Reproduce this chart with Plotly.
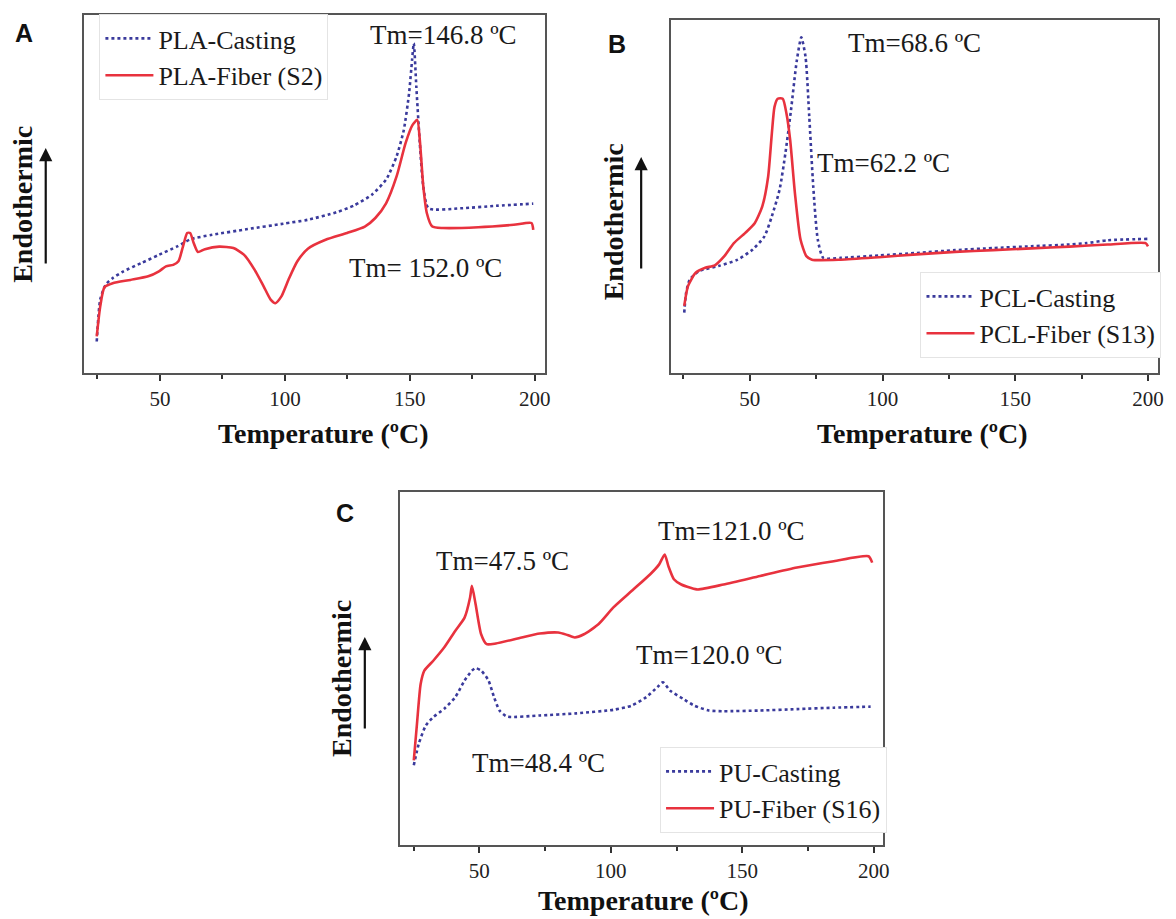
import plotly.graph_objects as go

# ---------------- data (temperature in °C, heat flow in arbitrary units) ----------------
pla_cast_T = [24.7, 26.1, 28.3, 31.1, 35.4, 42.5, 49.6, 56.7, 62.4, 70.9, 85.1, 99.3, 109.2, 120.6,
              127.7, 134.8, 140.5, 144.7, 147.6, 149.7, 150.9, 151.6, 152.6, 154.0, 155.4, 157.5,
              170.3, 184.5, 199.4]
pla_cast_y = [8.8, 20.5, 24.7, 26.5, 28.4, 30.7, 33.0, 35.3, 37.4, 38.6, 40.2, 41.7, 42.8, 44.9,
              46.8, 49.8, 54.0, 60.5, 67.9, 78.1, 87.4, 92.1, 80.0, 64.2, 52.1, 46.0,
              46.0, 46.7, 47.3]

pla_fib_T = [24.7, 26.1, 27.8, 31.1, 38.2, 45.3, 49.6, 52.4, 55.3, 57.4, 59.2, 60.9, 62.1, 63.5,
             65.2, 68.0, 73.7, 79.4, 83.7, 87.9, 91.5, 94.3, 96.2, 98.6, 101.4, 105.0, 109.2,
             116.3, 124.9, 132.0, 136.2, 140.5, 144.7, 148.3, 151.1, 153.0, 154.0, 155.4, 156.8,
             159.0, 163.2, 177.4, 191.6, 198.7, 199.4]
pla_fib_y = [10.2, 18.6, 24.0, 25.1, 26.0, 27.0, 28.4, 29.8, 30.2, 31.2, 35.3, 39.1, 39.1, 36.3,
             33.8, 34.6, 35.3, 34.9, 33.0, 28.8, 24.2, 20.5, 19.5, 21.4, 26.0, 31.2, 34.7,
             37.2, 39.1, 40.9, 43.3, 47.4, 54.9, 64.2, 69.3, 70.7, 65.1, 52.1, 44.7,
             40.9, 40.5, 40.7, 41.4, 41.9, 40.0]

pcl_cast_T = [25.3, 26.0, 27.4, 31.0, 38.2, 45.4, 51.1, 55.5, 58.3, 61.2, 63.4, 65.5, 67.7, 69.4,
              71.0, 72.4, 73.9, 75.6, 77.7, 84.2, 98.6, 112.9, 127.3, 141.7, 156.0, 170.4, 176.9,
              184.8, 200.0]
pcl_cast_y = [17.1, 22.7, 26.5, 28.9, 30.3, 32.1, 35.0, 38.7, 44.4, 51.9, 62.2, 74.4, 88.5, 95.1,
              89.5, 72.6, 52.8, 37.8, 32.6, 32.6, 33.3, 34.0, 34.8, 35.4, 35.9, 36.4, 36.8,
              37.6, 38.0]

pcl_fib_T = [25.3, 26.7, 29.6, 33.2, 36.8, 40.4, 44.0, 48.3, 51.9, 54.7, 56.9, 58.3, 59.3, 60.5,
             62.4, 63.8, 65.2, 67.0, 69.1, 71.3, 73.4, 84.2, 98.6, 112.9, 127.3, 141.7, 156.0,
             170.4, 184.8, 199.1, 200.0]
pcl_fib_y = [19.0, 24.6, 28.4, 29.8, 30.5, 33.1, 36.8, 39.7, 42.5, 47.2, 55.6, 67.9, 75.4, 77.7,
             77.7, 73.5, 66.0, 50.9, 37.8, 33.1, 32.1, 32.1, 32.8, 33.6, 34.3, 34.8, 35.3,
             35.8, 36.4, 36.8, 35.9]

pu_cast_T = [25.1, 27.0, 29.7, 32.5, 36.7, 40.9, 44.4, 47.2, 48.6, 50.7, 53.5, 55.6, 57.7, 60.5,
             73.0, 87.0, 101.0, 108.0, 113.5, 117.7, 119.8, 122.6, 127.5, 131.7, 137.3, 142.9,
             156.8, 170.8, 184.8, 198.8]
pu_cast_y = [22.6, 28.7, 33.9, 36.2, 38.6, 41.9, 46.6, 49.4, 50.1, 49.4, 46.6, 41.9, 38.1, 36.4,
             36.7, 37.3, 38.3, 39.5, 41.9, 44.7, 46.1, 43.7, 41.4, 39.5, 38.1, 37.9,
             38.1, 38.5, 38.9, 39.2]

pu_fib_T = [25.1, 26.3, 27.7, 29.1, 32.5, 36.7, 40.9, 44.4, 46.5, 47.2, 48.6, 50.7, 52.8, 56.3,
            66.1, 73.0, 80.0, 83.5, 86.3, 89.8, 95.4, 101.0, 108.0, 115.0, 118.4, 120.5, 121.9,
            124.0, 126.8, 130.3, 133.1, 142.9, 156.8, 170.8, 184.8, 198.0, 199.4]
pu_fib_y = [24.0, 34.3, 45.6, 49.4, 52.2, 56.0, 60.7, 64.4, 70.1, 73.4, 68.2, 59.7, 56.9, 57.1,
            58.8, 59.9, 60.2, 59.5, 58.8, 59.7, 62.6, 67.3, 72.0, 76.7, 79.5, 82.3, 79.0,
            75.3, 73.8, 72.9, 72.4, 73.8, 76.2, 78.6, 80.4, 81.8, 80.0]

series_names = ["PLA-Casting", "PLA-Fiber (S2)", "PCL-Casting", "PCL-Fiber (S13)",
                "PU-Casting", "PU-Fiber (S16)"]
tick_vals = [50, 100, 150, 200]
minor_vals = [25, 75, 125, 175]

# Tm annotations: (panel, T, y, text)
tm_labels = [
    (1, 163.5, 94.4, "Tm=146.8 ºC"),
    (1, 156.3, 29.3, "Tm= 152.0 ºC"),
    (2, 112.0, 93.4, "Tm=68.6 ºC"),
    (2, 100.5, 59.6, "Tm=62.2 ºC"),
    (3, 146.0, 89.0, "Tm=121.0 ºC"),
    (3, 59.0, 80.5, "Tm=47.5 ºC"),
    (3, 137.5, 53.8, "Tm=120.0 ºC"),
    (3, 72.5, 23.3, "Tm=48.4 ºC"),
]

# ---------------- styling ----------------
W, H = 1176, 919
BLUE = "#3a3a9c"
RED = "#e8323e"
FRAME = "#555555"
SERIF = "Liberation Serif, Times New Roman, serif"
SANS = "Liberation Sans, Arial, sans-serif"


def px(x):
    return x / W


def py(y):
    return 1 - y / H


# panel boxes in pixels: left, right, top, bottom
boxes = {
    1: (85, 548, 15, 373),
    2: (675, 1165, 20, 373),
    3: (402, 888, 492, 845),
}
xranges = {1: [19.8, 204.0], 2: [20.3, 203.8], 3: [19.7, 203.4]}

fig = go.Figure()

data = [
    (1, pla_cast_T, pla_cast_y, series_names[0], BLUE, "dot", "legend"),
    (1, pla_fib_T, pla_fib_y, series_names[1], RED, "solid", "legend"),
    (2, pcl_cast_T, pcl_cast_y, series_names[2], BLUE, "dot", "legend2"),
    (2, pcl_fib_T, pcl_fib_y, series_names[3], RED, "solid", "legend2"),
    (3, pu_cast_T, pu_cast_y, series_names[4], BLUE, "dot", "legend3"),
    (3, pu_fib_T, pu_fib_y, series_names[5], RED, "solid", "legend3"),
]
for p, xs, ys, name, col, dash, leg in data:
    suffix = "" if p == 1 else str(p)
    fig.add_trace(go.Scatter(
        x=xs, y=ys, mode="lines", name=name,
        line=dict(color=col, width=2.6, dash=dash, shape="spline", smoothing=0.6),
        xaxis="x" + suffix, yaxis="y" + suffix, legend=leg,
    ))

layout = dict(
    width=W, height=H, autosize=False,
    margin=dict(l=0, r=0, t=0, b=0),
    paper_bgcolor="white", plot_bgcolor="white",
    font=dict(family=SERIF, size=20, color="#1a1a1a"),
)

for p, (l, r, t, b) in boxes.items():
    suffix = "" if p == 1 else str(p)
    layout["xaxis" + suffix] = dict(
        domain=[px(l), px(r)], range=xranges[p], anchor="y" + suffix,
        showline=True, linecolor=FRAME, linewidth=2, mirror=True,
        showgrid=False, zeroline=False,
        tickvals=tick_vals, ticks="outside", ticklen=6, tickwidth=2, tickcolor="#333",
        tickfont=dict(family=SERIF, size=21, color="#222"),
        minor=dict(tickvals=minor_vals, ticks="outside", ticklen=4, tickwidth=2, tickcolor="#333"),
    )
    layout["yaxis" + suffix] = dict(
        domain=[py(b), py(t)], range=[0, 100], anchor="x" + suffix,
        showline=True, linecolor=FRAME, linewidth=2, mirror=True,
        showgrid=False, zeroline=False, showticklabels=False, ticks="",
    )

legend_common = dict(
    font=dict(family=SERIF, size=26, color="#1a1a1a"),
    bgcolor="rgba(255,255,255,1)", bordercolor="#e4e4e4", borderwidth=1,
    itemwidth=48, tracegroupgap=0, xanchor="left", yanchor="top",
)
layout["legend"] = dict(legend_common, x=px(100), y=py(14))
layout["legend2"] = dict(legend_common, x=px(926), y=py(272))
layout["legend3"] = dict(legend_common, x=px(664), y=py(747))
fig.update_layout(**layout)

ann = []
for p, T, yv, txt in tm_labels:
    suffix = "" if p == 1 else str(p)
    ann.append(dict(x=T, y=yv, xref="x" + suffix, yref="y" + suffix, text=txt,
                    xanchor="center", yanchor="middle",
                    showarrow=False, font=dict(family=SERIF, size=27, color="#1a1a1a")))

# panel letters
for letter, (x, y) in {"A": (24, 33), "B": (621, 44), "C": (347, 513)}.items():
    ann.append(dict(x=px(x), y=py(y), xref="paper", yref="paper", text="<b>%s</b>" % letter,
                    xanchor="center", yanchor="middle",
                    showarrow=False, font=dict(family=SANS, size=25, color="#111")))

# x-axis titles
for (x, y) in [(325, 433), (928, 433), (647, 900)]:
    ann.append(dict(x=px(x), y=py(y), xref="paper", yref="paper", text="<b>Temperature (ºC)</b>",
                    xanchor="center", yanchor="middle",
                    showarrow=False, font=dict(family=SERIF, size=28, color="#111")))

# y-axis titles + arrows
for (tx, ty, ax_x, head_y, tail_y) in [(23, 204, 46, 148, 265), (618, 222, 645, 157, 270),
                                        (343, 678, 367, 637, 730)]:
    ann.append(dict(x=px(tx), y=py(ty), xref="paper", yref="paper", text="<b>Endothermic</b>",
                    textangle=-90, showarrow=False, xanchor="center", yanchor="middle",
                    font=dict(family=SERIF, size=28, color="#111")))
    ann.append(dict(x=px(ax_x), y=py(head_y), xref="paper", yref="paper", text="",
                    showarrow=True, ax=0, ay=tail_y - head_y, axref="pixel", ayref="pixel",
                    arrowhead=2, arrowsize=1.2, arrowwidth=2.2, arrowcolor="#111"))

fig.update_layout(annotations=ann)
fig.write_html(
    "out.html",
    config={"displayModeBar": False},
    post_script="document.body.style.margin='0';document.body.style.padding='0';"
                "document.documentElement.style.overflow='hidden';",
)
